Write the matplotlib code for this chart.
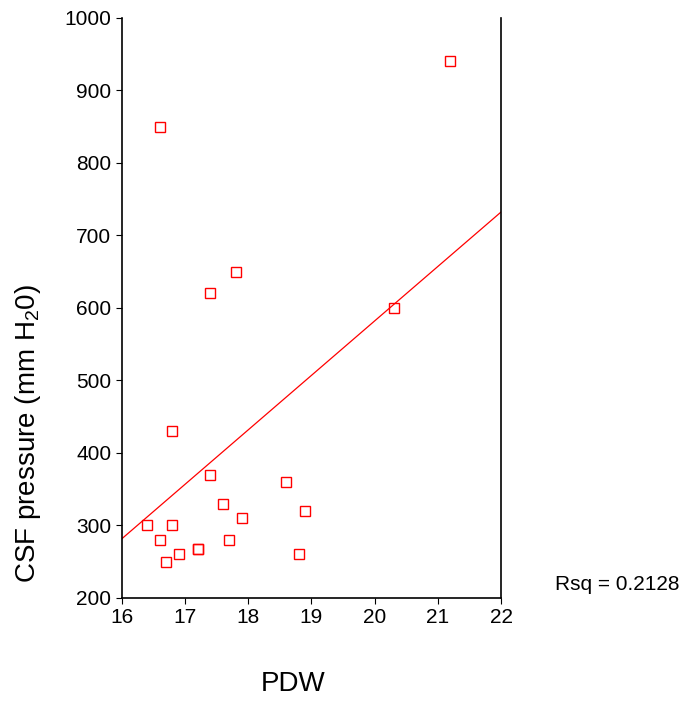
import numpy as np
import matplotlib.pyplot as plt

plt.rcParams['font.family'] = ['Liberation Sans', 'DejaVu Sans']
plt.rcParams['mathtext.fontset'] = 'custom'
plt.rcParams['mathtext.rm'] = 'Liberation Sans'

# PDW vs CSF pressure
pdw = [21.2, 16.6, 17.8, 17.4, 20.3, 16.8, 17.4, 18.6, 17.6, 17.9,
       18.9, 16.4, 16.8, 16.6, 17.7, 17.2, 17.2, 16.9, 18.8, 16.7]
csf = [940, 850, 650, 620, 600, 430, 370, 360, 330, 310,
       320, 300, 300, 280, 280, 268, 268, 260, 260, 250]
xticks = [16, 17, 18, 19, 20, 21, 22]
yticks = [200, 300, 400, 500, 600, 700, 800, 900, 1000]

fig = plt.figure(figsize=(6.84, 7.03), dpi=100)
ax = fig.add_axes([0.178, 0.1494, 0.5545, 0.825])

ax.plot(pdw, csf, 's', mfc='none', mec='red', ms=7, mew=1)

# least squares line
b, a = np.polyfit(pdw, csf, 1)
xs = np.array([16, 22])
ax.plot(xs, a + b * xs, color='red', lw=0.9)

ax.set_xlim(16, 22)
ax.set_ylim(200, 1000)
ax.set_xticks(xticks)
ax.set_yticks(yticks)
ax.tick_params(labelsize=15, length=4, width=0.8)
ax.spines['top'].set_visible(False)
for s in ['left', 'bottom', 'right']:
    ax.spines[s].set_linewidth(1.2)

fig.text(0.428, 0.009, 'PDW', fontsize=20, ha='center', va='bottom')
fig.text(0.041, 0.384, r'CSF pressure (mm H$_\mathregular{2}$0)', fontsize=20,
         rotation=90, ha='center', va='center')
fig.text(0.811, 0.168, 'Rsq = 0.2128', fontsize=15, ha='left', va='center')

fig.savefig('out.png', dpi=100)
